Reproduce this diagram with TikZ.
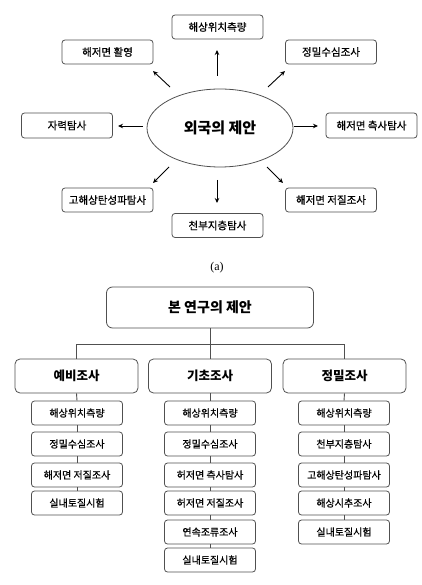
\documentclass[tikz,border=0pt]{standalone}
\usepackage{fontspec}
\setmainfont{Noto Sans CJK KR}
\newfontfamily\medkr[FakeBold=0.8]{Noto Sans CJK KR}
\newfontfamily\serifabc{Liberation Serif}
\usetikzlibrary{shapes.geometric,arrows.meta}
\definecolor{edgegray}{HTML}{505050}
\tikzset{
  obox/.style={draw=edgegray,line width=0.8pt,rounded corners=3pt,minimum width=91pt,minimum height=24pt,inner sep=0pt,font=\medkr\fontsize{10.5}{12}\selectfont},
  lvtwo/.style={draw=edgegray,line width=0.8pt,rounded corners=5pt,minimum width=123pt,minimum height=34pt,inner sep=0pt,font=\fontsize{12.5}{14}\selectfont\bfseries},
  lvthree/.style={draw=edgegray,line width=0.8pt,rounded corners=3pt,minimum width=91pt,minimum height=24pt,inner sep=0pt,font=\medkr\fontsize{10}{11}\selectfont},
  rootbox/.style={draw=edgegray,line width=0.8pt,rounded corners=6pt,minimum width=207pt,minimum height=41pt,inner sep=0pt,font=\fontsize{14}{16}\selectfont\bfseries},
  arr/.style={-{Stealth[length=5pt,width=4.5pt]},line width=0.9pt,black},
  tline/.style={line width=0.9pt,edgegray}
}
\begin{document}
\begin{tikzpicture}[x=1pt,y=-1pt]
\useasboundingbox (0,0) rectangle (421,585);
% (a) outer proposal
\node[draw=edgegray,line width=0.8pt,ellipse,minimum width=146pt,minimum height=78pt,inner sep=0pt,font=\fontsize{15}{17}\selectfont\bfseries] (e) at (220,128) {외국의 제안};
\node[obox] (t1) at (217.5,27) {해상위치측량};
\node[obox] (t2) at (107.5,52) {해저면 활영};
\node[obox] (t3) at (331,52) {정밀수심조사};
\node[obox,minimum height=25pt] (t4) at (67,125.5) {자력탐사};
\node[obox,minimum height=25pt] (t5) at (371.5,125.5) {해저면 측사탐사};
\node[obox] (t6) at (107.5,200) {고해상탄성파탐사};
\node[obox] (t7) at (331,200) {해저면 저질조사};
\node[obox] (t8) at (217.5,225.5) {천부지층탐사};
% arrow ends
\coordinate (a1s) at (217,76);  \coordinate (a1e) at (217,50);
\coordinate (a2s) at (170,87);  \coordinate (a2e) at (153,71);
\coordinate (a3s) at (268,87);  \coordinate (a3e) at (285,71);
\coordinate (a4s) at (143,126); \coordinate (a4e) at (118,126);
\coordinate (a5s) at (294,126); \coordinate (a5e) at (318,126);
\coordinate (a6s) at (169,167); \coordinate (a6e) at (153,183);
\coordinate (a7s) at (217,180); \coordinate (a7e) at (217,203);
\coordinate (a8s) at (267,167); \coordinate (a8e) at (283,183);
\draw[arr] (a1s) -- (a1e);
\draw[arr] (a2s) -- (a2e);
\draw[arr] (a3s) -- (a3e);
\draw[arr] (a4s) -- (a4e);
\draw[arr] (a5s) -- (a5e);
\draw[arr] (a6s) -- (a6e);
\draw[arr] (a7s) -- (a7e);
\draw[arr] (a8s) -- (a8e);
\node[font=\serifabc\fontsize{12}{14}\selectfont] (cap) at (217,268) {(a)};
% (b) this study
\node[rootbox] (root) at (210,307.5) {본 연구의 제안};
\node[lvtwo] (l1) at (76.5,376) {예비조사};
\node[lvtwo] (l2) at (210,376) {기초조사};
\node[lvtwo] (l3) at (344.5,376) {정밀조사};
% left column
\node[lvthree] (p1) at (77,413) {해상위치측량};
\node[lvthree] (p2) at (77,444) {정밀수심조사};
\node[lvthree] (p3) at (77,475) {해저면 저질조사};
\node[lvthree] (p4) at (77,503) {실내토질시험};
% middle column
\node[lvthree] (m1) at (210,413) {해상위치측량};
\node[lvthree] (m2) at (210,444) {정밀수심조사};
\node[lvthree] (m3) at (210,475) {허저면 측사탐사};
\node[lvthree] (m4) at (210,503) {허저면 저질조사};
\node[lvthree] (m5) at (210,532) {연속조류조사};
\node[lvthree] (m6) at (210,560) {실내토질시험};
% right column
\node[lvthree] (q1) at (344,413) {해상위치측량};
\node[lvthree] (q2) at (344,444) {천부지층탐사};
\node[lvthree] (q3) at (344,475) {고해상탄성파탐사};
\node[lvthree] (q4) at (344,503) {해상시추조사};
\node[lvthree] (q5) at (344,532) {실내토질시험};
% tree connectors
\draw[tline] (root.south) -- (l2.north);
\draw[tline] (l1.north) |- ([yshift=14pt]l2.north) -| (l3.north);
\draw[tline] (l1.south) -- (p1.north);
\draw[tline] (p1.south) -- (p2.north);
\draw[tline] (p2.south) -- (p3.north);
\draw[tline] (p3.south) -- (p4.north);
\draw[tline] (l2.south) -- (m1.north);
\draw[tline] (m1.south) -- (m2.north);
\draw[tline] (m2.south) -- (m3.north);
\draw[tline] (m3.south) -- (m4.north);
\draw[tline] (m4.south) -- (m5.north);
\draw[tline] (m5.south) -- (m6.north);
\draw[tline] (l3.south) -- (q1.north);
\draw[tline] (q1.south) -- (q2.north);
\draw[tline] (q2.south) -- (q3.north);
\draw[tline] (q3.south) -- (q4.north);
\draw[tline] (q4.south) -- (q5.north);
\end{tikzpicture}
\end{document}
